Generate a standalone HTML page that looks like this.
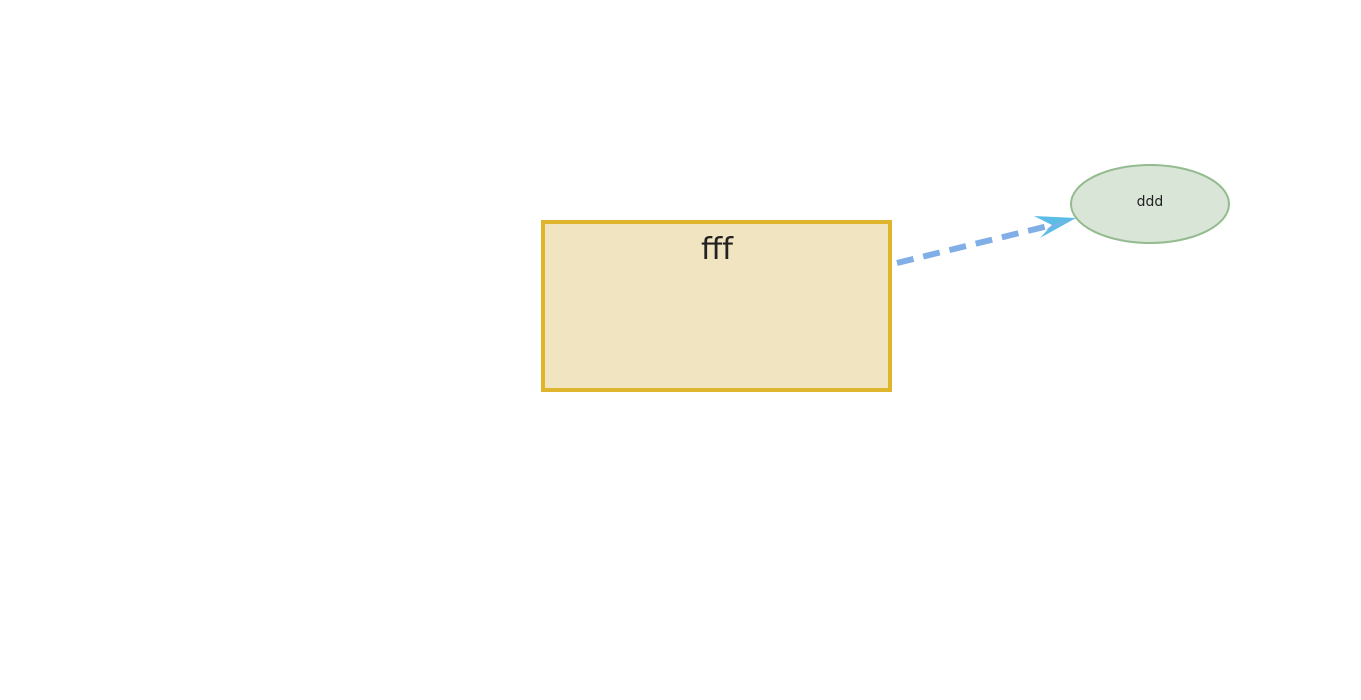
<!DOCTYPE html>
<html><head><meta charset="utf-8"><style>html,body{margin:0;padding:0;background:#fff;}svg{display:block}</style></head>
<body>
<svg width="1361" height="700" viewBox="0 0 1361 700" xmlns="http://www.w3.org/2000/svg">
<rect x="543" y="222" width="347" height="168" fill="#f0e5c0" stroke="#e0b52e" stroke-width="4"/>
<text x="717" y="259" font-family="DejaVu Sans, sans-serif" font-size="30" fill="#222" text-anchor="middle" textLength="32" lengthAdjust="spacingAndGlyphs">fff</text>
<ellipse cx="1150" cy="204" rx="79" ry="39" fill="#d9e5d6" stroke="#94bb8f" stroke-width="2"/>
<text x="1150" y="206" font-family="DejaVu Sans, sans-serif" font-size="14" fill="#222" text-anchor="middle">ddd</text>
<line x1="897" y1="263" x2="1052" y2="225" stroke="#80aee6" stroke-width="6" stroke-dasharray="17,10"/>
<path d="M1076 218 L1034 216 L1052 225 L1040 238 Z" fill="#5bbde6"/>
<path d="M1076 218 L1052 225 L1046 230 Z" fill="#80aee6"/>
</svg>
</body></html>
